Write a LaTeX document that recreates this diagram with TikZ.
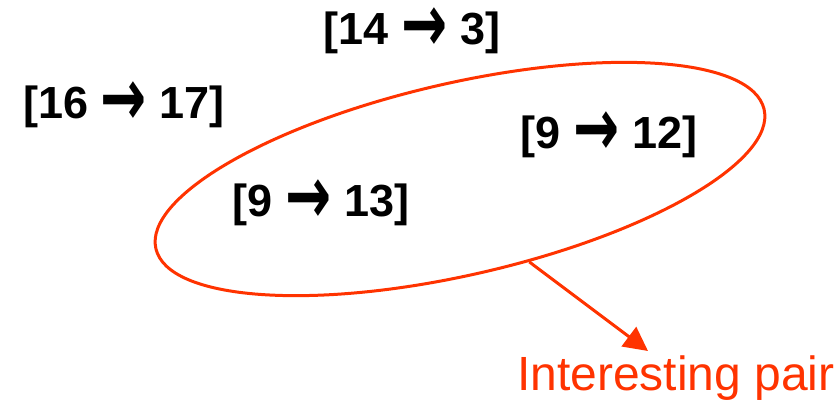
\documentclass[tikz,border=0pt]{standalone}
\usepackage{fontspec}
\setmainfont{Liberation Sans}
\newfontfamily\arrowfont{DejaVu Sans}
\usetikzlibrary{shapes.geometric,arrows.meta}
\definecolor{hot}{RGB}{255,51,0}
\newcommand{\pairto}{\smash{\raisebox{-7pt}{\scalebox{0.95}[1.4]{\arrowfont\bfseries\fontsize{58}{60}\selectfont →}}}}
\tikzset{
  pairlabel/.style={font=\bfseries\fontsize{45}{50}\selectfont, inner sep=0pt, anchor=center},
  ring/.style={draw=hot, line width=3pt, ellipse, inner sep=0pt},
  pointer/.style={draw=hot, line width=3pt, -{Triangle[length=24pt,width=24pt]}},
}
\begin{document}
\begin{tikzpicture}[x=1pt,y=-1pt]
\useasboundingbox (0,0) rectangle (839,402);
\node[pairlabel] (a) at (412,33) {[14 \pairto{} 3]};
\node[pairlabel] (b) at (124,107) {[16 \pairto{} 17]};
\node[pairlabel] (c) at (609,137) {[9 \pairto{} 12]};
\node[pairlabel] (d) at (321,205) {[9 \pairto{} 13]};
\node[ring, rotate=12.9, minimum width=624pt, minimum height=192pt] (ell) at (460,179) {};
\node[font=\fontsize{48}{54}\selectfont, text=hot, inner sep=0pt, anchor=west] (lab) at (517,378) {Interesting pair};
\coordinate (tip) at (648,351);
\draw[pointer] (ell.-63) -- (tip);
\end{tikzpicture}
\end{document}
